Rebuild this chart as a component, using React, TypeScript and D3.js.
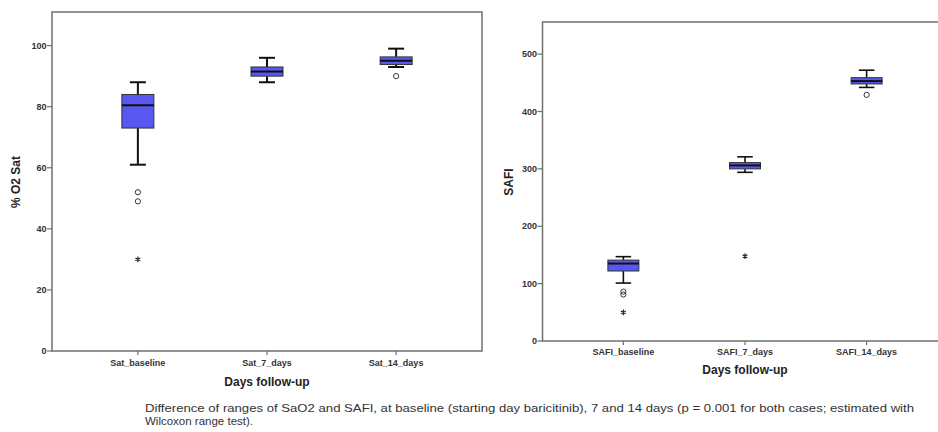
import React from "react";
import * as d3 from "d3";

// ---- Data: left panel (% O2 Sat) ----
const satCategories = ["Sat_baseline", "Sat_7_days", "Sat_14_days"];
const satWhiskerLow = [61, 88, 93];
const satQ1 = [73, 90, 93.8];
const satMedian = [80.5, 91.5, 95];
const satQ3 = [84, 93, 96.3];
const satWhiskerHigh = [88, 96, 99];
const satOutlierCats = ["Sat_baseline", "Sat_baseline", "Sat_baseline", "Sat_14_days"];
const satOutlierValues = [52, 49, 30, 90];
const satOutlierKinds = ["circle", "circle", "star", "circle"];
const satTicks = [0, 20, 40, 60, 80, 100];

// ---- Data: right panel (SAFI) ----
const safiCategories = ["SAFI_baseline", "SAFI_7_days", "SAFI_14_days"];
const safiWhiskerLow = [101, 294, 442];
const safiQ1 = [122, 300, 448];
const safiMedian = [135, 306, 453];
const safiQ3 = [141, 311, 459];
const safiWhiskerHigh = [147, 321, 472];
const safiOutlierCats = ["SAFI_baseline", "SAFI_baseline", "SAFI_baseline", "SAFI_7_days", "SAFI_14_days"];
const safiOutlierValues = [86, 81, 50, 148, 429];
const safiOutlierKinds = ["circle", "circle", "star", "star", "circle"];
const safiTicks = [0, 100, 200, 300, 400, 500];

const captionLines = [
  "Difference of ranges of SaO2 and SAFI, at baseline (starting day baricitinib), 7 and 14 days (p = 0.001 for both cases; estimated with",
  "Wilcoxon range test).",
];

const BOX_FILL = "#5858f0";
const FRAME = "#707070";
const FONT = "'Liberation Sans', Arial, sans-serif";

type PanelProps = {
  cats: string[];
  lo: number[];
  q1: number[];
  med: number[];
  q3: number[];
  hi: number[];
  oCats: string[];
  oVals: number[];
  oKinds: string[];
  ticks: number[];
  yMax: number;
  left: number;
  right: number;
  top: number;
  bottom: number;
  boxW: number;
  yTitle: string;
  yTitleX: number;
  yTitleY: number;
  catLabelY: number;
  xTitleY: number;
  whiskerW: number;
};

function Panel(p: PanelProps) {
  const x = d3.scalePoint<string>().domain(p.cats).range([p.left, p.right]).padding(0.665);
  const y = d3.scaleLinear().domain([0, p.yMax]).range([p.bottom, p.top]);
  const cap = p.boxW / 2;
  const star = d3.symbol().type(d3.symbolAsterisk).size(22);
  const xMid = (x(p.cats[1]) as number);
  return (
    <g>
      <rect x={p.left} y={p.top} width={p.right - p.left} height={p.bottom - p.top} fill="none" stroke={FRAME} strokeWidth={1.5} />
      {p.ticks.map((t) => (
        <g key={t}>
          <line x1={p.left - 5} x2={p.left} y1={y(t)} y2={y(t)} stroke={FRAME} strokeWidth={1.2} />
          <text x={p.left - 5.5} y={y(t)} dy="0.34em" textAnchor="end" fontFamily={FONT} fontSize={9} fontWeight="bold" fill="#333">{t}</text>
        </g>
      ))}
      {p.cats.map((c) => (
        <g key={c}>
          <line x1={x(c)} x2={x(c)} y1={p.bottom} y2={p.bottom + 4} stroke={FRAME} strokeWidth={1.2} />
          <text x={x(c)} y={p.catLabelY} textAnchor="middle" fontFamily={FONT} fontSize={9} fontWeight="bold" fill="#333">{c}</text>
        </g>
      ))}
      {p.cats.map((c, i) => {
        const cx = x(c) as number;
        return (
          <g key={"b" + c}>
            <line x1={cx} x2={cx} y1={y(p.hi[i])} y2={y(p.q3[i])} stroke="#111" strokeWidth={p.whiskerW} />
            <line x1={cx} x2={cx} y1={y(p.q1[i])} y2={y(p.lo[i])} stroke="#111" strokeWidth={p.whiskerW} />
            <line x1={cx - cap / 2} x2={cx + cap / 2} y1={y(p.hi[i])} y2={y(p.hi[i])} stroke="#111" strokeWidth={p.whiskerW} />
            <line x1={cx - cap / 2} x2={cx + cap / 2} y1={y(p.lo[i])} y2={y(p.lo[i])} stroke="#111" strokeWidth={p.whiskerW} />
            <rect x={cx - p.boxW / 2} y={y(p.q3[i])} width={p.boxW} height={y(p.q1[i]) - y(p.q3[i])} fill={BOX_FILL} stroke="#333" strokeWidth={1} />
            <line x1={cx - p.boxW / 2} x2={cx + p.boxW / 2} y1={y(p.med[i])} y2={y(p.med[i])} stroke="#111" strokeWidth={2} />
          </g>
        );
      })}
      {p.oVals.map((v, i) => {
        const cx = x(p.oCats[i]) as number;
        if (p.oKinds[i] === "circle") {
          return <circle key={"o" + i} cx={cx} cy={y(v)} r={2.6} fill="none" stroke="#333" strokeWidth={1} />;
        }
        return <path key={"o" + i} d={star() as string} transform={`translate(${cx},${y(v)})`} fill="none" stroke="#222" strokeWidth={1.2} />;
      })}
      <text x={xMid} y={p.xTitleY} textAnchor="middle" fontFamily={FONT} fontSize={12} fontWeight="bold" fill="#222">Days follow-up</text>
      <text transform={`translate(${p.yTitleX},${p.yTitleY}) rotate(-90)`} textAnchor="middle" dy="0.35em" fontFamily={FONT} fontSize={12} fontWeight="bold" fill="#222">{p.yTitle}</text>
    </g>
  );
}

export default function App() {
  return (
    <svg width={938} height={432} style={{ position: "absolute", left: 0, top: 0, background: "#fff" }}>
      <rect x={0} y={0} width={938} height={432} fill="#fff" />
      <Panel
        cats={satCategories} lo={satWhiskerLow} q1={satQ1} med={satMedian} q3={satQ3} hi={satWhiskerHigh}
        oCats={satOutlierCats} oVals={satOutlierValues} oKinds={satOutlierKinds} ticks={satTicks}
        yMax={111} left={52} right={482} top={12} bottom={351} boxW={32} yTitle="% O2 Sat" yTitleX={16} yTitleY={182}
        catLabelY={366} xTitleY={386} whiskerW={2}
      />
      <Panel
        cats={safiCategories} lo={safiWhiskerLow} q1={safiQ1} med={safiMedian} q3={safiQ3} hi={safiWhiskerHigh}
        oCats={safiOutlierCats} oVals={safiOutlierValues} oKinds={safiOutlierKinds} ticks={safiTicks}
        yMax={556} left={542.5} right={947.5} top={22} bottom={341} boxW={31} yTitle="SAFI" yTitleX={509} yTitleY={182}
        catLabelY={355} xTitleY={374} whiskerW={1.6}
      />
      <text x={145} y={412} fontFamily={FONT} fontSize={11} fill="#333" textLength={769} lengthAdjust="spacingAndGlyphs">{captionLines[0]}</text>
      <text x={145} y={425} fontFamily={FONT} fontSize={11} fill="#333" textLength={108} lengthAdjust="spacingAndGlyphs">{captionLines[1]}</text>
    </svg>
  );
}
